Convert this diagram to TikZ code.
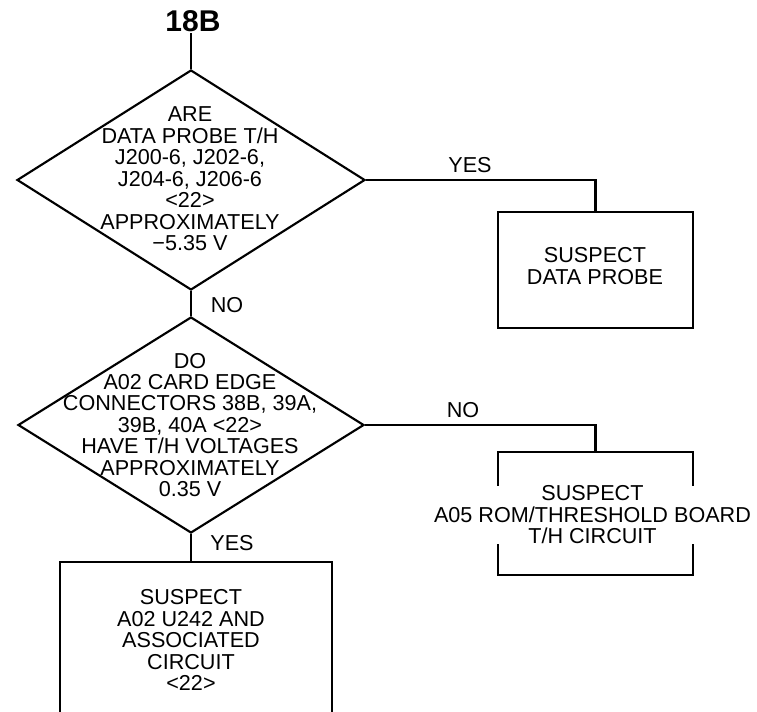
\documentclass[tikz,border=0pt]{standalone}
\usepackage{fontspec}
\setmainfont{Liberation Sans}
\usetikzlibrary{shapes.geometric}
\begin{document}
\begin{tikzpicture}[x=0.75pt,y=-0.75pt,
  ln/.style={line width=1.6pt},
  dec/.style={draw,ln,diamond,inner sep=0pt,minimum width=#1},
  boxn/.style={draw,ln,rectangle,inner sep=0pt},
  txt/.style={align=center,inner sep=1pt,font=\fontsize{16.2}{16.1}\selectfont},
  lab/.style={inner sep=0pt,font=\fontsize{16.2}{16.1}\selectfont}
]
\useasboundingbox (0,0) rectangle (757,712);
\clip (0,0) rectangle (757,712);
\node[font=\bfseries\fontsize{22.5}{24}\selectfont,inner sep=1pt] (t) at (193,21) {18B};
\node[dec=261pt,minimum height=165pt] (d1) at (191,180) {};
\node[dec=259.5pt,minimum height=162pt] (d2) at (191,425) {};
\node[boxn,minimum width=146.25pt,minimum height=87pt] (b1) at (595.5,270) {};
\node[boxn,minimum width=146.25pt,minimum height=92.25pt] (b2) at (595.5,513.5) {};
\node[boxn,minimum width=204pt,minimum height=118pt] (b3) at (196,641) {};
\node[txt] (q1) at (190,179) {ARE\\DATA PROBE T/H\\J200-6, J202-6,\\J204-6, J206-6\\<22>\\APPROXIMATELY\\−5.35 V};
\node[txt] (q2) at (190,425) {DO\\A02 CARD EDGE\\CONNECTORS 38B, 39A,\\39B, 40A <22>\\HAVE T/H VOLTAGES\\APPROXIMATELY\\0.35 V};
\node[txt] (s1) at (595,266) {SUSPECT\\DATA PROBE};
\node[txt,fill=white,inner sep=0pt,outer sep=0pt] (s2) at (592.5,515) {SUSPECT\\A05 ROM/THRESHOLD BOARD\\T/H CIRCUIT};
\node[txt] (s3) at (191,640) {SUSPECT\\A02 U242 AND\\ASSOCIATED\\CIRCUIT\\<22>};
\node[lab] (l1) at (470,165) {YES};
\node[lab] (l2) at (227,305) {NO};
\node[lab] (l3) at (463,410) {NO};
\node[lab] (l4) at (232,543) {YES};
\draw[ln] (d1.north |- t.south) -- (d1.north);
\draw[ln] (d1.south) -- (d2.north);
\draw[ln] (d1.east) -| (b1.north);
\draw[ln] (d2.east) -| (b2.north);
\draw[ln] (d2.south) -- (d2.south |- b3.north);
\end{tikzpicture}
\end{document}
